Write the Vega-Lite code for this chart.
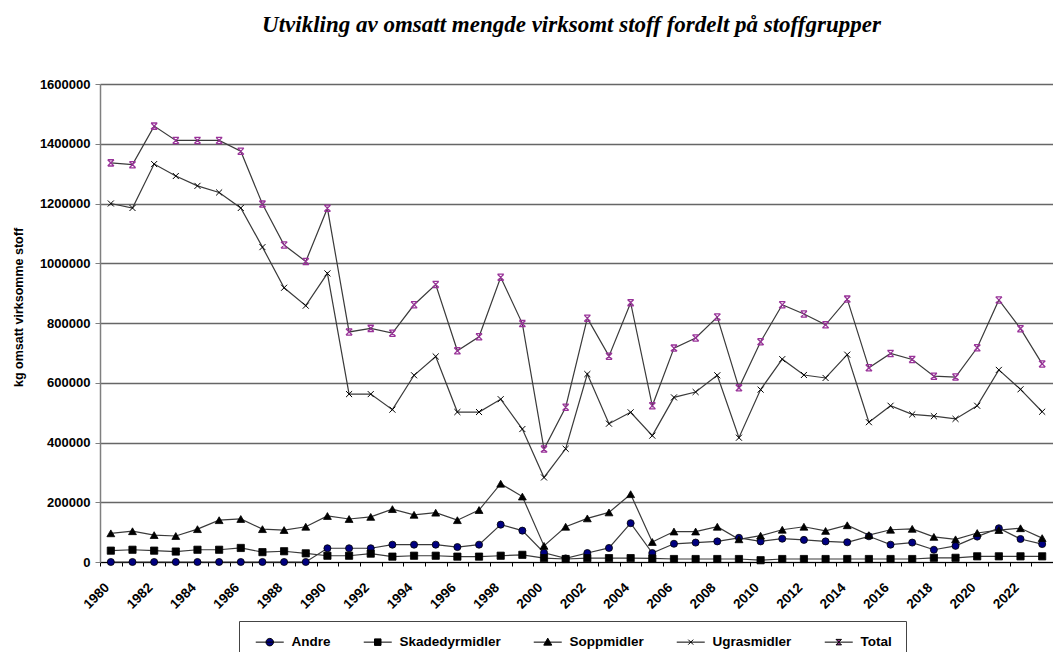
{
  "$schema": "https://vega.github.io/schema/vega-lite/v6.json",
  "autosize": "none",
  "width": 953,
  "height": 478,
  "padding": {"left": 100, "top": 84, "right": 0, "bottom": 90},
  "background": "white",
  "title": {
    "text": "Utvikling av omsatt mengde virksomt stoff fordelt på stoffgrupper",
    "font": "Liberation Serif",
    "fontSize": 23,
    "fontWeight": "bold",
    "fontStyle": "italic",
    "color": "#000000",
    "anchor": "middle",
    "dx": -5,
    "offset": 41
  },
  "config": {
    "view": {"stroke": null},
    "axis": {"labelFont": "Liberation Sans", "titleFont": "Liberation Sans"}
  },
  "data": {
    "values": [
      {"year": 1980, "Andre": 0, "Skadedyrmidler": 38000, "Soppmidler": 96000, "Ugrasmidler": 1200000, "Total": 1336000},
      {"year": 1981, "Andre": 0, "Skadedyrmidler": 41000, "Soppmidler": 103000, "Ugrasmidler": 1185000, "Total": 1330000},
      {"year": 1982, "Andre": 0, "Skadedyrmidler": 38000, "Soppmidler": 90000, "Ugrasmidler": 1332000, "Total": 1459000},
      {"year": 1983, "Andre": 0, "Skadedyrmidler": 35000, "Soppmidler": 87000, "Ugrasmidler": 1292000, "Total": 1411000},
      {"year": 1984, "Andre": 0, "Skadedyrmidler": 41000, "Soppmidler": 110000, "Ugrasmidler": 1259000, "Total": 1411000},
      {"year": 1985, "Andre": 0, "Skadedyrmidler": 41000, "Soppmidler": 140000, "Ugrasmidler": 1237000, "Total": 1411000},
      {"year": 1986, "Andre": 0, "Skadedyrmidler": 47000, "Soppmidler": 144000, "Ugrasmidler": 1185000, "Total": 1375000},
      {"year": 1987, "Andre": 0, "Skadedyrmidler": 33000, "Soppmidler": 110000, "Ugrasmidler": 1054000, "Total": 1198000},
      {"year": 1988, "Andre": 0, "Skadedyrmidler": 36000, "Soppmidler": 107000, "Ugrasmidler": 918000, "Total": 1061000},
      {"year": 1989, "Andre": 0, "Skadedyrmidler": 29000, "Soppmidler": 118000, "Ugrasmidler": 858000, "Total": 1006000},
      {"year": 1990, "Andre": 46000, "Skadedyrmidler": 21000, "Soppmidler": 154000, "Ugrasmidler": 966000, "Total": 1184000},
      {"year": 1991, "Andre": 46000, "Skadedyrmidler": 21000, "Soppmidler": 144000, "Ugrasmidler": 562000, "Total": 770000},
      {"year": 1992, "Andre": 46000, "Skadedyrmidler": 28000, "Soppmidler": 151000, "Ugrasmidler": 562000, "Total": 782000},
      {"year": 1993, "Andre": 58000, "Skadedyrmidler": 18000, "Soppmidler": 177000, "Ugrasmidler": 510000, "Total": 766000},
      {"year": 1994, "Andre": 58000, "Skadedyrmidler": 21000, "Soppmidler": 158000, "Ugrasmidler": 625000, "Total": 861000},
      {"year": 1995, "Andre": 58000, "Skadedyrmidler": 21000, "Soppmidler": 165000, "Ugrasmidler": 688000, "Total": 929000},
      {"year": 1996, "Andre": 50000, "Skadedyrmidler": 18000, "Soppmidler": 140000, "Ugrasmidler": 502000, "Total": 707000},
      {"year": 1997, "Andre": 58000, "Skadedyrmidler": 18000, "Soppmidler": 174000, "Ugrasmidler": 502000, "Total": 754000},
      {"year": 1998, "Andre": 125000, "Skadedyrmidler": 21000, "Soppmidler": 262000, "Ugrasmidler": 545000, "Total": 953000},
      {"year": 1999, "Andre": 105000, "Skadedyrmidler": 24000, "Soppmidler": 219000, "Ugrasmidler": 445000, "Total": 798000},
      {"year": 2000, "Andre": 31000, "Skadedyrmidler": 13000, "Soppmidler": 54000, "Ugrasmidler": 283000, "Total": 378000},
      {"year": 2001, "Andre": 12000, "Skadedyrmidler": 10000, "Soppmidler": 118000, "Ugrasmidler": 379000, "Total": 518000},
      {"year": 2002, "Andre": 30000, "Skadedyrmidler": 13000, "Soppmidler": 146000, "Ugrasmidler": 629000, "Total": 816000},
      {"year": 2003, "Andre": 47000, "Skadedyrmidler": 13000, "Soppmidler": 166000, "Ugrasmidler": 463000, "Total": 689000},
      {"year": 2004, "Andre": 130000, "Skadedyrmidler": 13000, "Soppmidler": 227000, "Ugrasmidler": 501000, "Total": 868000},
      {"year": 2005, "Andre": 30000, "Skadedyrmidler": 12000, "Soppmidler": 67000, "Ugrasmidler": 423000, "Total": 523000},
      {"year": 2006, "Andre": 61000, "Skadedyrmidler": 10000, "Soppmidler": 102000, "Ugrasmidler": 551000, "Total": 716000},
      {"year": 2007, "Andre": 65000, "Skadedyrmidler": 10000, "Soppmidler": 102000, "Ugrasmidler": 569000, "Total": 750000},
      {"year": 2008, "Andre": 69000, "Skadedyrmidler": 10000, "Soppmidler": 118000, "Ugrasmidler": 625000, "Total": 820000},
      {"year": 2009, "Andre": 81000, "Skadedyrmidler": 10000, "Soppmidler": 76000, "Ugrasmidler": 416000, "Total": 583000},
      {"year": 2010, "Andre": 69000, "Skadedyrmidler": 6000, "Soppmidler": 88000, "Ugrasmidler": 577000, "Total": 737000},
      {"year": 2011, "Andre": 78000, "Skadedyrmidler": 10000, "Soppmidler": 108000, "Ugrasmidler": 679000, "Total": 861000},
      {"year": 2012, "Andre": 74000, "Skadedyrmidler": 10000, "Soppmidler": 118000, "Ugrasmidler": 626000, "Total": 830000},
      {"year": 2013, "Andre": 69000, "Skadedyrmidler": 10000, "Soppmidler": 104000, "Ugrasmidler": 616000, "Total": 794000},
      {"year": 2014, "Andre": 66000, "Skadedyrmidler": 10000, "Soppmidler": 123000, "Ugrasmidler": 694000, "Total": 880000},
      {"year": 2015, "Andre": 86000, "Skadedyrmidler": 10000, "Soppmidler": 90000, "Ugrasmidler": 468000, "Total": 650000},
      {"year": 2016, "Andre": 58000, "Skadedyrmidler": 10000, "Soppmidler": 108000, "Ugrasmidler": 523000, "Total": 698000},
      {"year": 2017, "Andre": 65000, "Skadedyrmidler": 10000, "Soppmidler": 111000, "Ugrasmidler": 494000, "Total": 678000},
      {"year": 2018, "Andre": 41000, "Skadedyrmidler": 14000, "Soppmidler": 84000, "Ugrasmidler": 488000, "Total": 622000},
      {"year": 2019, "Andre": 54000, "Skadedyrmidler": 14000, "Soppmidler": 76000, "Ugrasmidler": 479000, "Total": 619000},
      {"year": 2020, "Andre": 85000, "Skadedyrmidler": 19000, "Soppmidler": 97000, "Ugrasmidler": 523000, "Total": 717000},
      {"year": 2021, "Andre": 113000, "Skadedyrmidler": 19000, "Soppmidler": 107000, "Ugrasmidler": 643000, "Total": 877000},
      {"year": 2022, "Andre": 77000, "Skadedyrmidler": 19000, "Soppmidler": 113000, "Ugrasmidler": 578000, "Total": 781000},
      {"year": 2023, "Andre": 60000, "Skadedyrmidler": 19000, "Soppmidler": 80000, "Ugrasmidler": 503000, "Total": 663000}
    ]
  },
  "transform": [
    {"fold": ["Andre", "Skadedyrmidler", "Soppmidler", "Ugrasmidler", "Total"], "as": ["series", "kg"]}
  ],
  "encoding": {
    "x": {
      "field": "year",
      "type": "ordinal",
      "scale": {"paddingInner": 0, "paddingOuter": 0},
      "axis": {
        "title": null,
        "labelAngle": -45,
        "labelAlign": "right",
        "labelBaseline": "middle",
        "labelExpr": "datum.value % 2 == 0 ? datum.label : ''",
        "labelFontWeight": "bold",
        "labelFontSize": 13.5,
        "labelColor": "#000000",
        "labelPadding": 19,
        "labelOffset": -4,
        "tickBand": "extent",
        "tickSize": 4,
        "tickColor": "#000000",
        "domainColor": "#000000",
        "domainWidth": 1.2,
        "grid": false
      }
    },
    "y": {
      "field": "kg",
      "type": "quantitative",
      "scale": {"domain": [0, 1600000], "nice": false},
      "axis": {
        "title": "kg omsatt virksomme stoff",
        "titleFontSize": 12.5,
        "titleFontWeight": "bold",
        "titleColor": "#000000",
        "titleX": -82,
        "titleY": 223,
        "titleAngle": -90,
        "titleAlign": "center",
        "titleBaseline": "middle",
        "values": [0, 200000, 400000, 600000, 800000, 1000000, 1200000, 1400000, 1600000],
        "format": "d",
        "labelFontWeight": "bold",
        "labelFontSize": 13,
        "labelColor": "#000000",
        "labelPadding": 5,
        "tickSize": 5,
        "tickColor": "#7f7f7f",
        "domainColor": "#7f7f7f",
        "domainWidth": 1.5,
        "grid": true,
        "gridColor": "#666666",
        "gridWidth": 1.3
      }
    }
  },
  "layer": [
    {
      "mark": {"type": "line", "color": "#3a3a3a", "strokeWidth": 1.2},
      "encoding": {"detail": {"field": "series"}}
    },
    {
      "transform": [{"filter": "datum.series == 'Andre'"}],
      "mark": {"type": "point", "shape": "circle", "filled": true, "color": "#000080", "fill": "#000080", "stroke": "#000000", "strokeWidth": 0.8, "size": 50, "opacity": 1}
    },
    {
      "transform": [{"filter": "datum.series == 'Skadedyrmidler'"}],
      "mark": {"type": "point", "shape": "square", "filled": true, "color": "#000000", "fill": "#000000", "stroke": "#000000", "strokeWidth": 0.8, "size": 52, "opacity": 1}
    },
    {
      "transform": [{"filter": "datum.series == 'Soppmidler'"}],
      "mark": {"type": "point", "shape": "triangle-up", "filled": true, "color": "#000000", "fill": "#000000", "stroke": "#000000", "strokeWidth": 0.8, "size": 62, "opacity": 1}
    },
    {
      "transform": [{"filter": "datum.series == 'Ugrasmidler'"}],
      "mark": {"type": "point", "shape": "M-0.9,-0.9L0.9,0.9M0.9,-0.9L-0.9,0.9", "filled": false, "color": "#000000", "stroke": "#000000", "strokeWidth": 1, "size": 45, "opacity": 1}
    },
    {
      "transform": [{"filter": "datum.series == 'Total'"}],
      "mark": {"type": "point", "shape": "M-0.9,-0.9L0.9,0.9M0.9,-0.9L-0.9,0.9M-0.9,-0.9L0.9,-0.9M-0.9,0.9L0.9,0.9", "filled": false, "color": "#993399", "stroke": "#993399", "strokeWidth": 1.3, "size": 48, "opacity": 1}
    },
    {
      "transform": [{"filter": "false"}],
      "mark": {"type": "point", "filled": true, "size": 100, "strokeWidth": 1, "opacity": 1},
      "encoding": {
        "color": {
          "field": "series",
          "type": "nominal",
          "scale": {
            "domain": ["Andre", "Skadedyrmidler", "Soppmidler", "Ugrasmidler", "Total"],
            "range": ["#000080", "#000000", "#000000", "#000000", "#993399"]
          },
          "legend": {
            "title": null,
            "orient": "none",
            "legendX": 139,
            "legendY": 537,
            "direction": "horizontal",
            "columns": 5,
            "columnPadding": 30,
            "padding": 14,
            "symbolOffset": 10,
            "symbolSize": 100,
            "symbolStrokeWidth": 1,
            "labelOffset": 15,
            "labelFont": "Liberation Sans",
            "labelFontWeight": "bold",
            "labelFontSize": 13.5,
            "labelColor": "#000000",
            "strokeColor": "#444444",
            "fillColor": "#ffffff"
          }
        },
        "stroke": {
          "field": "series",
          "type": "nominal",
          "scale": {
            "domain": ["Andre", "Skadedyrmidler", "Soppmidler", "Ugrasmidler", "Total"],
            "range": ["#000000", "#000000", "#000000", "#000000", "#000000"]
          }
        },
        "shape": {
          "field": "series",
          "type": "nominal",
          "scale": {
            "domain": ["Andre", "Skadedyrmidler", "Soppmidler", "Ugrasmidler", "Total"],
            "range": [
              "M-2.8,0L2.8,0M-0.75,0A0.75,0.75,0,1,1,0.75,0A0.75,0.75,0,1,1,-0.75,0Z",
              "M-2.8,0L2.8,0M-0.65,-0.65L0.65,-0.65L0.65,0.65L-0.65,0.65Z",
              "M-2.8,0L2.8,0M0,-0.8L0.8,0.6L-0.8,0.6Z",
              "M-2.8,0L2.8,0M-0.5,-0.5L0.5,0.5M0.5,-0.5L-0.5,0.5",
              "M-2.8,0L2.8,0M-0.55,-0.55L0.55,-0.55L-0.55,0.55L0.55,0.55Z"
            ]
          }
        }
      }
    }
  ]
}
